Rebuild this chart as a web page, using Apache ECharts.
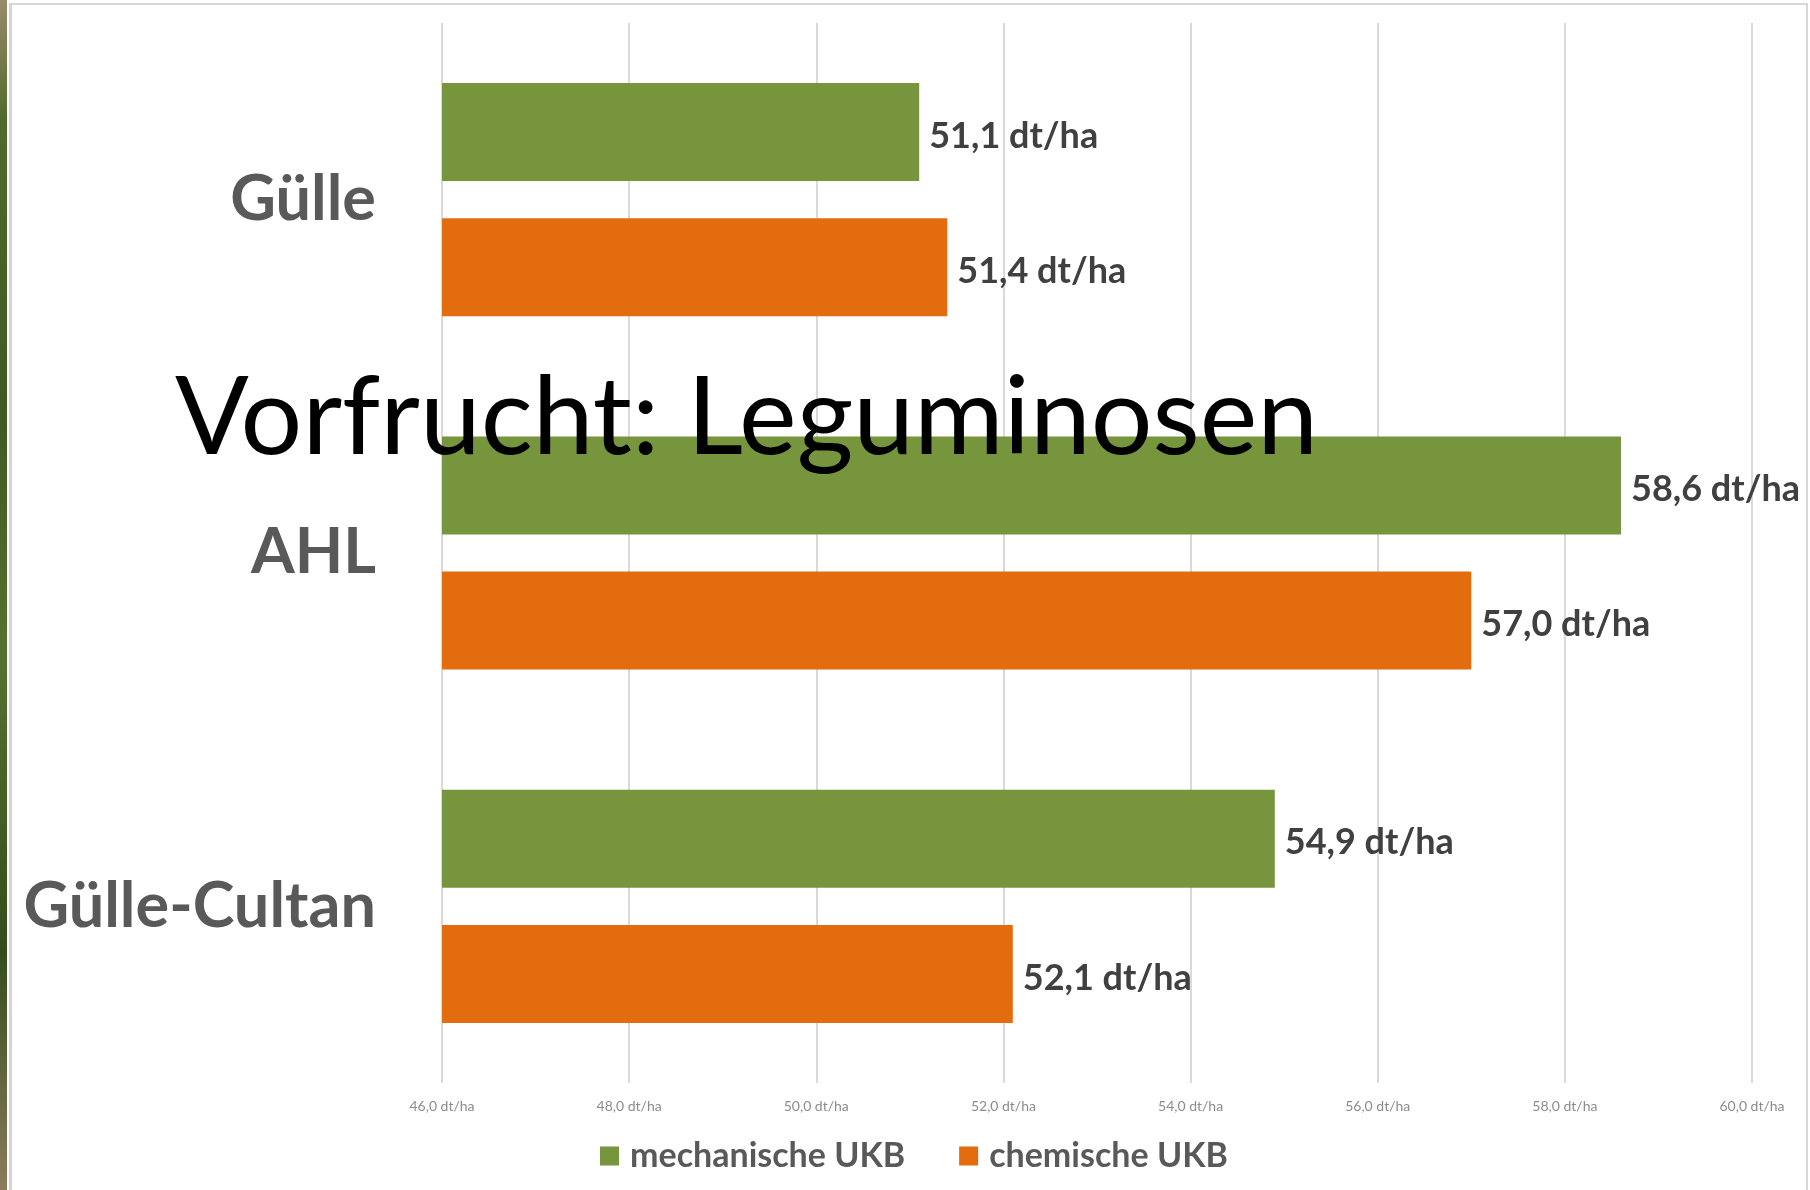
<!DOCTYPE html>
<html>
<head>
<meta charset="utf-8">
<title>Vorfrucht: Leguminosen</title>
<script src="https://cdn.jsdelivr.net/npm/echarts@6/dist/echarts.min.js"></script>
<style>
  html, body { margin: 0; padding: 0; background: #fff; }
  #wrap { position: relative; width: 1810px; height: 1190px; overflow: hidden; }
  /* Fotorand links (Folienhintergrund) */
  .photo-strip {
    position: absolute; left: 0; top: 0; width: 7px; height: 1190px;
    background: linear-gradient(to bottom, #9a8a6a 0%, #4f6a2c 10%, #3f5a22 35%, #56712f 55%, #344d1c 80%, #8c7b5c 100%);
  }
  .frame {
    position: absolute; left: 9px; top: 3px; right: 2px; bottom: -2px;
    border-left: 3px solid #d4d4d4; border-top: 2px solid #d8d8d8; border-right: 2px solid #d8d8d8;
    background: #fff;
  }
  #chart { position: absolute; left: 0; top: 0; width: 1810px; height: 1190px; }
</style>
</head>
<body>
<div id="wrap">
  <div class="photo-strip"></div>
  <div class="frame"></div>
  <div id="chart"></div>
</div>
<script>
// Kategorien (von oben nach unten)
const categories = ['Gülle', 'AHL', 'Gülle-Cultan']

// Ertrag in dt/ha
const mechanischeUKB = [51.1, 58.6, 54.9]
const chemischeUKB = [51.4, 57.0, 52.1]

// Achse
const axisMin = 46
const axisMax = 60
const axisStep = 2

const GREEN = '#77953d'
const ORANGE = '#e36c0f'

// Zahl im deutschen Format
function fmt(v) {
  return v.toFixed(1).replace('.', ',') + ' dt/ha'
}

const chart = echarts.init(document.getElementById('chart'), null, { renderer: 'canvas' })

const valueLabel = {
  show: true,
  position: 'right',
  distance: 10,
  offset: [0, 4],
  color: '#404040',
  fontFamily: 'Lato',
  fontWeight: 'bold',
  fontSize: 36,
  formatter: p => fmt(p.value)
}

chart.setOption({
  backgroundColor: 'transparent',
  animation: false,
  title: {
    text: 'Vorfrucht: Leguminosen',
    left: 170,
    top: 359,
    textStyle: {
      color: '#000',
      fontFamily: 'Lato',
      fontWeight: 'normal',
      fontSize: 109
    }
  },
  legend: {
    data: ['mechanische UKB', 'chemische UKB'],
    left: 595,
    top: 1134,
    itemWidth: 19,
    itemHeight: 19,
    itemGap: 54,
    icon: 'rect',
    textStyle: {
      color: '#595959',
      fontFamily: 'Lato',
      fontWeight: 'bold',
      fontSize: 34,
      padding: [0, 0, 0, 6]
    }
  },
  grid: {
    left: 442,
    right: 58,
    top: 23,
    bottom: 107,
    containLabel: false
  },
  xAxis: {
    type: 'value',
    min: axisMin,
    max: axisMax,
    interval: axisStep,
    axisLine: { show: false },
    axisTick: { show: false },
    axisLabel: {
      color: '#8c8c8c',
      fontFamily: 'Lato',
      fontSize: 14,
      margin: 16,
      formatter: v => fmt(v)
    },
    splitLine: {
      lineStyle: { color: '#dadada', width: 2 }
    }
  },
  yAxis: {
    type: 'category',
    data: categories,
    inverse: true,
    axisLine: { show: false },
    axisTick: { show: false },
    axisLabel: {
      color: '#595959',
      fontFamily: 'Lato',
      fontWeight: 'bold',
      fontSize: 63,
      margin: 66
    }
  },
  series: [
    {
      name: 'mechanische UKB',
      type: 'bar',
      data: mechanischeUKB,
      barWidth: 98,
      barGap: '38%',
      itemStyle: { color: GREEN },
      label: valueLabel
    },
    {
      name: 'chemische UKB',
      type: 'bar',
      data: chemischeUKB,
      barWidth: 98,
      itemStyle: { color: ORANGE },
      label: valueLabel
    }
  ]
})
</script>
</body>
</html>
